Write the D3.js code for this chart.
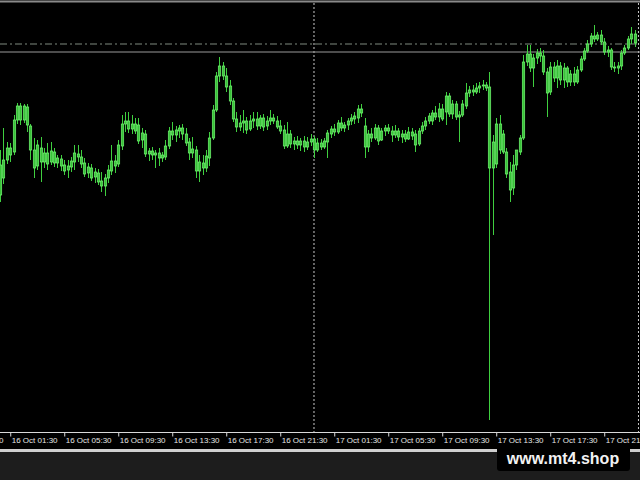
<!DOCTYPE html>
<html><head><meta charset="utf-8">
<script src="https://cdn.jsdelivr.net/npm/d3@7"></script>
<style>html,body{margin:0;padding:0;background:#000;overflow:hidden}</style>
</head><body><svg id="c" width="640" height="480"></svg>
<script>
// OHLC values (price points), 15-minute bars from 16 Oct 00:45
const openP = [245,262,280,292,288,320,334,320,333,314,290,274,292,278,287,278,288,277,281,275,270,273,278,286,283,277,267,272,263,267,259,254,262,269,279,276,294,316,319,311,316,315,300,306,286,289,285,287,282,283,294,309,305,309,312,306,298,287,290,269,277,272,282,302,330,364,374,364,354,339,321,313,317,319,311,319,321,314,322,314,319,322,319,314,310,294,306,296,299,295,299,293,298,301,290,297,293,298,306,311,308,317,312,315,319,321,322,331,314,293,306,302,312,300,309,312,309,305,309,303,306,301,308,306,296,309,314,319,319,327,323,331,328,344,326,336,323,325,334,347,350,348,352,354,355,353,272,276,316,306,288,268,252,275,288,302,378,386,372,382,387,384,368,348,373,362,374,360,372,358,366,358,370,381,389,396,404,401,405,398,388,390,373,372,374,387,392,401,406];
const highP = [290,312,298,297,325,337,337,336,336,316,302,300,303,292,297,298,292,285,285,280,280,283,295,295,290,282,277,276,272,271,268,266,275,295,285,300,325,328,328,325,322,322,312,310,292,293,290,292,288,300,313,318,314,315,316,312,302,303,294,285,285,290,308,335,368,383,378,372,360,342,328,325,330,323,325,328,328,325,326,324,330,326,324,320,315,318,310,303,304,302,304,303,306,304,302,301,302,310,314,316,320,323,318,322,326,328,335,336,322,310,312,316,315,312,315,316,314,315,312,310,310,313,312,310,312,318,323,327,330,334,337,336,348,347,340,339,329,340,357,354,355,357,358,360,358,368,305,322,325,310,292,278,285,290,305,385,395,395,386,391,392,390,372,378,378,380,378,377,374,370,373,374,384,392,400,407,415,408,410,402,394,392,378,378,390,395,404,413,410];
const lowP = [238,256,276,278,285,316,315,317,308,280,262,270,258,272,270,275,273,272,269,265,262,268,270,278,272,263,262,259,257,255,248,244,257,265,267,273,290,308,307,306,306,296,292,283,279,280,272,274,278,280,291,300,298,302,300,294,280,282,262,258,265,268,274,300,328,358,360,348,335,318,308,309,307,306,309,312,310,311,309,310,315,316,311,306,291,292,292,290,291,289,288,290,294,282,288,290,291,282,302,304,306,309,308,310,315,316,317,323,282,288,298,300,295,299,304,306,298,302,299,297,298,300,300,288,294,306,310,316,315,320,318,319,315,323,321,320,298,323,331,343,344,346,347,350,349,20,205,272,286,286,262,238,245,270,285,300,374,368,353,376,378,365,323,345,358,352,355,352,353,354,354,356,368,379,387,393,398,399,395,385,383,370,368,366,370,385,390,396,393];
const closeP = [275,280,292,285,320,334,320,334,315,290,272,295,278,287,276,289,277,282,274,269,274,279,287,283,276,266,273,262,268,258,254,262,270,279,274,295,316,319,311,316,309,299,307,286,289,285,287,282,285,294,309,305,310,312,306,297,287,291,269,278,272,284,302,330,364,374,364,353,339,321,313,317,319,310,319,321,314,322,313,319,322,319,313,309,294,306,296,299,295,299,293,298,301,290,297,293,299,307,311,308,317,312,315,319,322,324,331,327,293,306,302,312,299,309,312,309,305,309,303,306,301,308,304,295,309,314,319,324,327,323,331,321,344,326,336,323,325,336,347,350,348,352,354,355,352,272,298,316,290,288,266,250,275,290,302,378,386,372,382,387,384,368,347,373,362,374,360,372,358,366,358,370,381,389,396,404,401,405,398,388,390,373,372,374,387,392,401,406,397];

const tickTimes = ["2023-10-15T21:30Z","2023-10-16T01:30Z","2023-10-16T05:30Z","2023-10-16T09:30Z","2023-10-16T13:30Z","2023-10-16T17:30Z","2023-10-16T21:30Z","2023-10-17T01:30Z","2023-10-17T05:30Z","2023-10-17T09:30Z","2023-10-17T13:30Z","2023-10-17T17:30Z","2023-10-17T21:30Z"];
const tickLabels = ["15 Oct 21:30","16 Oct 01:30","16 Oct 05:30","16 Oct 09:30","16 Oct 13:30","16 Oct 17:30","16 Oct 21:30","17 Oct 01:30","17 Oct 05:30","17 Oct 09:30","17 Oct 13:30","17 Oct 17:30","17 Oct 21:30"];
const levelDashDot = 396;
const levelBid = 388;
const daySeparator = "2023-10-17T00:00Z";
const watermark = "www.mt4.shop";

const startTime = Date.UTC(2023, 9, 16, 0, 45);
const barMs = 15 * 60000;
const n = openP.length;
const barTimes = d3.range(n).map(i => new Date(startTime + i * barMs));

const W = 640, H = 480, plotBottom = 432;
const x = d3.scaleUtc().domain([barTimes[0], barTimes[n - 1]]).range([0.125, 634.6]);
const y = d3.scaleLinear().domain([10, 440]).range([430, 0]);

const svg = d3.select("#c");
svg.append("rect").attr("width", W).attr("height", H).attr("fill", "#000");
svg.append("defs").append("clipPath").attr("id", "plot")
  .append("rect").attr("x", 0).attr("y", 0).attr("width", W).attr("height", plotBottom);

const g = svg.append("g").attr("clip-path", "url(#plot)");

// top border
g.append("line").attr("x1", 0).attr("x2", W).attr("y1", 1.5).attr("y2", 1.5)
  .attr("stroke", "#8a8a8a").attr("stroke-width", 2);

// day separator
const sepX = x(new Date(daySeparator));
g.append("line").attr("x1", sepX).attr("x2", sepX).attr("y1", 3).attr("y2", plotBottom)
  .attr("stroke", "#c8c8c8").attr("stroke-width", 1).attr("stroke-dasharray", "2,2");
const shiftX = x(new Date(startTime + n * barMs)) + 0.5;
g.append("line").attr("x1", shiftX).attr("x2", shiftX).attr("y1", 3).attr("y2", plotBottom)
  .attr("stroke", "#c8c8c8").attr("stroke-width", 1).attr("stroke-dasharray", "2,2");

// levels
g.append("line").attr("x1", 0).attr("x2", W).attr("y1", y(levelDashDot)).attr("y2", y(levelDashDot))
  .attr("stroke", "#7f8a7f").attr("stroke-width", 1).attr("stroke-dasharray", "7,3,2,3");
g.append("line").attr("x1", 0).attr("x2", W).attr("y1", y(levelBid)).attr("y2", y(levelBid))
  .attr("stroke", "#9a9a9a").attr("stroke-width", 1);

// candles
const bars = d3.range(n).map(i => ({t: barTimes[i], o: openP[i], h: highP[i], l: lowP[i], c: closeP[i]}));
const cg = g.append("g");
cg.selectAll("line.w").data(bars).join("line").attr("class", "w")
  .attr("x1", d => Math.round(x(d.t)) + 0.5).attr("x2", d => Math.round(x(d.t)) + 0.5)
  .attr("y1", d => y(d.h)).attr("y2", d => y(d.l))
  .attr("stroke", "#3fcf3f").attr("stroke-width", 1);
cg.selectAll("rect.b").data(bars).join("rect").attr("class", "b")
  .attr("x", d => Math.round(x(d.t)) - 0.7)
  .attr("width", 2.4)
  .attr("y", d => y(Math.max(d.o, d.c)))
  .attr("height", d => Math.max(1, Math.abs(y(d.o) - y(d.c))))
  .attr("fill", "#38c238").attr("stroke", "#72f572").attr("stroke-width", 0.7);

// x axis
const tickDates = tickTimes.map(s => new Date(s));
const ax = svg.append("g").attr("transform", `translate(0,${plotBottom + 0.5})`)
  .call(d3.axisBottom(x).tickValues(tickDates).tickFormat((d, i) => tickLabels[i]).tickSize(4).tickSizeOuter(0));
ax.select(".domain").remove();
ax.selectAll(".tick line").attr("stroke", "#d8d8d8");
ax.selectAll(".tick text").attr("text-anchor", "start").attr("x", 1).attr("y", 5).attr("dy", "0.71em")
  .attr("fill", "#e6e6e6").attr("font-family", "Liberation Sans, Arial, sans-serif").attr("font-size", 8);
svg.append("line").attr("x1", 0).attr("x2", W).attr("y1", plotBottom + 0.5).attr("y2", plotBottom + 0.5)
  .attr("stroke", "#d8d8d8").attr("stroke-width", 1.2);

// bottom panel
svg.append("rect").attr("x", 0).attr("y", 449).attr("width", W).attr("height", 3).attr("fill", "#d0d0d0");
svg.append("rect").attr("x", 0).attr("y", 452).attr("width", W).attr("height", H - 452).attr("fill", "#1d1d1d");

// watermark
svg.append("rect").attr("x", 497).attr("y", 446).attr("width", 133).attr("height", 25).attr("rx", 3)
  .attr("fill", "#000");
svg.append("text").attr("x", 563).attr("y", 463.5).attr("text-anchor", "middle")
  .attr("font-family", "Liberation Sans, Arial, sans-serif").attr("font-weight", "bold").attr("font-size", 16)
  .attr("fill", "#f2f2f2").text(watermark);
</script></body></html>
